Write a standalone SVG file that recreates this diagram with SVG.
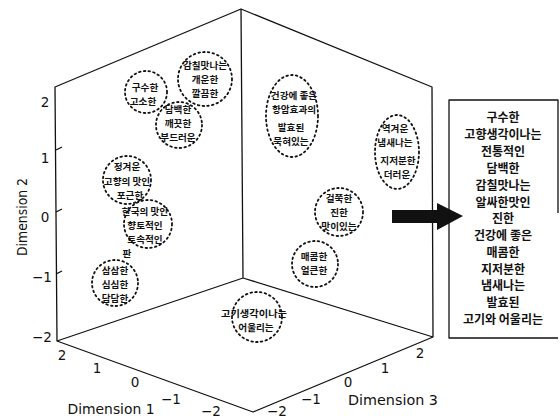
<svg xmlns="http://www.w3.org/2000/svg" width="560" height="418" viewBox="0 0 560 418">
<style>
.ax{stroke:#111;stroke-width:1.3;fill:none;stroke-linejoin:round}
.cl{fill:none;stroke:#111;stroke-width:1.8;stroke-dasharray:1.6 3.2;stroke-linecap:round}
.k{font-family:"Noto Sans CJK KR","Noto Sans",sans-serif;font-size:9.6px;font-weight:bold;fill:#111;text-anchor:middle;dominant-baseline:central}
.b{font-family:"Noto Sans CJK KR","Noto Sans",sans-serif;font-size:12px;font-weight:bold;fill:#111;text-anchor:middle;dominant-baseline:central}
.t{font-family:"DejaVu Sans","Liberation Sans",sans-serif;font-size:13.5px;fill:#111;text-anchor:middle;dominant-baseline:central}
.d{font-family:"DejaVu Sans","Liberation Sans",sans-serif;font-size:14px;fill:#111;text-anchor:middle;dominant-baseline:central}
</style>
<rect width="560" height="418" fill="#fff"/>
<g id="axes">
<path class="ax" d="M55,87 L241,9 L432,87 L433,337 L253,412 L57,341 Z"/>
<path class="ax" d="M241,9 L243,278 M57,341 L243,278 L433,337"/>
<path class="ax" d="M56,150 l6,-3 M56,212 l6,-3 M56,274 l6,-3"/>
<text class="t" x="45" y="102">2</text>
<text class="t" x="45" y="158">1</text>
<text class="t" x="45" y="217">0</text>
<text class="t" x="42" y="277">−1</text>
<text class="t" x="42" y="337">−2</text>
<text class="d" x="22" y="217" transform="rotate(-90 22 217)" textLength="78" lengthAdjust="spacingAndGlyphs">Dimension 2</text>
<text class="t" x="62" y="355">2</text>
<text class="t" x="97" y="368">1</text>
<text class="t" x="135" y="382">0</text>
<text class="t" x="171" y="399">−1</text>
<text class="t" x="211" y="411">−2</text>
<text class="d" x="111" y="409" textLength="87" lengthAdjust="spacingAndGlyphs">Dimension 1</text>
<text class="t" x="277" y="411">−2</text>
<text class="t" x="311" y="399">−1</text>
<text class="t" x="348" y="382">0</text>
<text class="t" x="385" y="368">1</text>
<text class="t" x="420" y="353">2</text>
<text class="d" x="393" y="400" textLength="90" lengthAdjust="spacingAndGlyphs">Dimension 3</text>
</g>
<g id="c1"><circle class="cl" cx="205" cy="79" r="27"/>
<text class="k" x="205" y="65">감칠맛나는</text><text class="k" x="205" y="79">개운한</text><text class="k" x="205" y="93">깔끔한</text></g>
<g id="c2"><circle class="cl" cx="146" cy="92" r="21"/>
<text class="k" x="145" y="87">구수한</text><text class="k" x="143" y="101">고소한</text></g>
<g id="c3"><circle class="cl" cx="179" cy="125" r="23"/>
<text class="k" x="178" y="109">담백한</text><text class="k" x="178" y="123">깨끗한</text><text class="k" x="178" y="137">부드러운</text></g>
<g id="c4"><circle class="cl" cx="127" cy="180" r="24"/>
<text class="k" x="127" y="166">정겨운</text><text class="k" x="127" y="181">고향의 맛인</text><text class="k" x="130" y="195">포근한</text></g>
<g id="c5"><circle class="cl" cx="148" cy="224" r="24"/>
<text class="k" x="145" y="211">한국의 맛인</text><text class="k" x="145" y="225">향토적인</text><text class="k" x="145" y="239">토속적인</text></g>
<g id="t-pan"><text class="k" x="127" y="253">판</text></g>
<g id="c6"><circle class="cl" cx="115" cy="283" r="23"/>
<text class="k" x="115" y="270">삼삼한</text><text class="k" x="115" y="284">심심한</text><text class="k" x="115" y="298">담담한</text></g>
<g id="c7"><ellipse class="cl" cx="292" cy="116" rx="26" ry="41"/>
<text class="k" x="294" y="95">건강에 좋은</text><text class="k" x="294" y="109">항암효과의</text><text class="k" x="291" y="127">발효된</text><text class="k" x="291" y="141">묵혀있는</text></g>
<g id="c8"><ellipse class="cl" cx="397" cy="152" rx="22" ry="37"/>
<text class="k" x="395" y="128">역겨운</text><text class="k" x="395" y="142">냄새나는</text><text class="k" x="398" y="160">지저분한</text><text class="k" x="397" y="174">더러운</text></g>
<g id="c9"><circle class="cl" cx="339" cy="212" r="24"/>
<text class="k" x="339" y="198">걸쭉한</text><text class="k" x="339" y="212">진한</text><text class="k" x="339" y="226">맛이있는</text></g>
<g id="c10"><circle class="cl" cx="315" cy="264" r="23"/>
<text class="k" x="314" y="256">매콤한</text><text class="k" x="314" y="270">얼큰한</text></g>
<g id="c11"><circle class="cl" cx="257" cy="317" r="25"/>
<text class="k" x="254" y="313" textLength="66" lengthAdjust="spacingAndGlyphs">고기생각이나는</text><text class="k" x="256" y="327">어울리는</text></g>
<g id="connectors">
<polygon points="392,210 437,210 437,203 463,216 437,230 437,223 392,223" fill="#111"/>
</g>
<g id="list">
<path class="ax" d="M558,213 L558,100 L449,100 L449,338 L558,338" stroke-width="1.6"/>
<text class="b" x="503" y="116">구수한</text>
<text class="b" x="503" y="133">고향생각이나는</text>
<text class="b" x="503" y="150">전통적인</text>
<text class="b" x="503" y="167">담백한</text>
<text class="b" x="503" y="184">감칠맛나는</text>
<text class="b" x="503" y="201">알싸한맛인</text>
<text class="b" x="503" y="217">진한</text>
<text class="b" x="503" y="234">건강에 좋은</text>
<text class="b" x="503" y="251">매콤한</text>
<text class="b" x="503" y="268">지저분한</text>
<text class="b" x="503" y="284">냄새나는</text>
<text class="b" x="503" y="301">발효된</text>
<text class="b" x="503" y="318">고기와 어울리는</text>
</g>
</svg>
